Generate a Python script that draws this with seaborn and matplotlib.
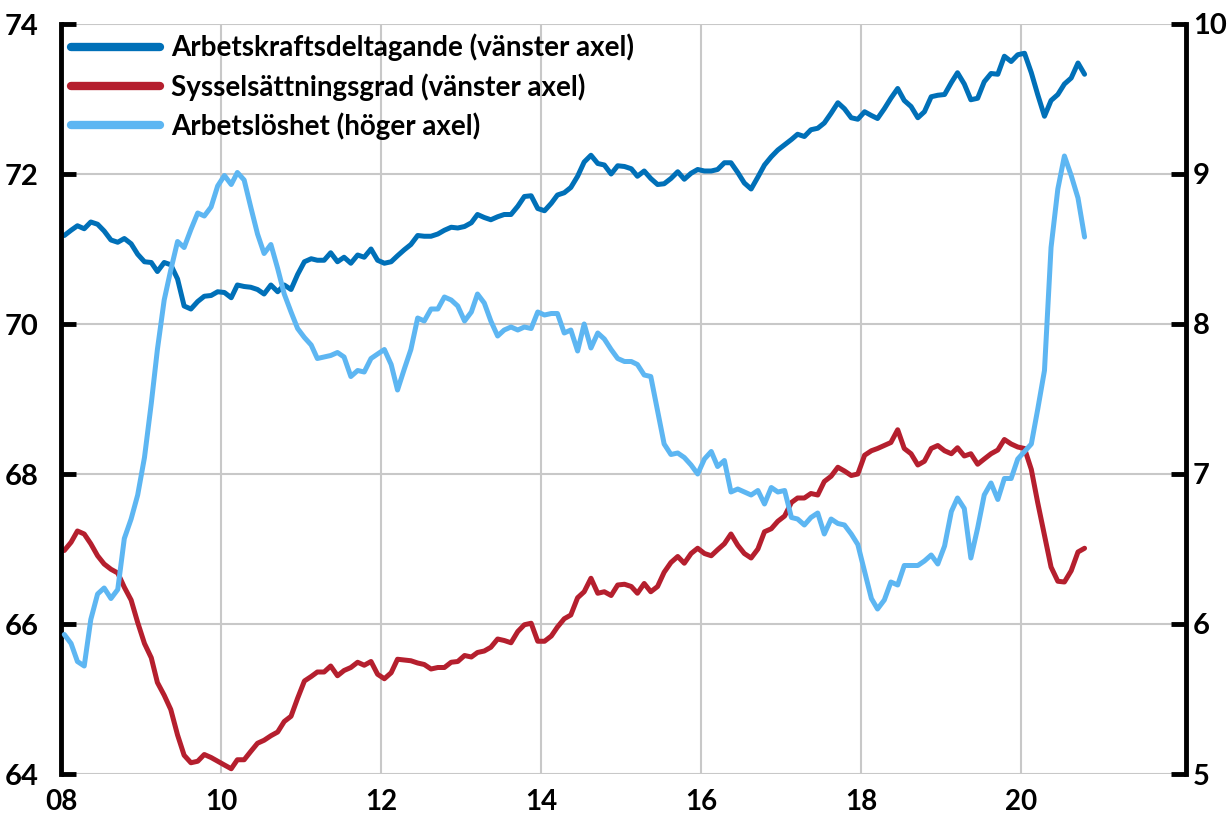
import pandas as pd
import matplotlib.pyplot as plt
import matplotlib.dates as mdates
import seaborn as sns

# Månadsdata jan 2008 - okt 2020
arbetskraft = [
    71.18, 71.25, 71.31, 71.27, 71.36, 71.33, 71.24, 71.12, 71.09, 71.14, 71.07, 70.93,
    70.83, 70.82, 70.70, 70.82, 70.79, 70.60, 70.24, 70.20, 70.30, 70.37, 70.38, 70.43,
    70.42, 70.35, 70.52, 70.50, 70.49, 70.46, 70.40, 70.52, 70.43, 70.52, 70.46, 70.66,
    70.83, 70.87, 70.85, 70.85, 70.95, 70.83, 70.89, 70.81, 70.92, 70.89, 71.00, 70.85,
    70.81, 70.83, 70.91, 70.99, 71.06, 71.18, 71.17, 71.17, 71.20, 71.25, 71.29, 71.28,
    71.30, 71.35, 71.46, 71.42, 71.39, 71.43, 71.46, 71.46, 71.57, 71.70, 71.71, 71.54,
    71.51, 71.61, 71.72, 71.75, 71.82, 71.97, 72.16, 72.25, 72.14, 72.12, 72.00, 72.11,
    72.10, 72.07, 71.97, 72.04, 71.94, 71.86, 71.87, 71.94, 72.03, 71.93, 72.01, 72.06,
    72.04, 72.04, 72.06, 72.15, 72.15, 72.02, 71.88, 71.80, 71.96, 72.12, 72.23, 72.32,
    72.39, 72.46, 72.53, 72.50, 72.59, 72.61, 72.68, 72.81, 72.95, 72.87, 72.75, 72.73,
    72.83, 72.78, 72.74, 72.87, 73.01, 73.14, 72.98, 72.90, 72.75, 72.83, 73.03, 73.05,
    73.06, 73.22, 73.35, 73.20, 72.99, 73.01, 73.23, 73.34, 73.33, 73.57, 73.50, 73.59,
    73.61, 73.35, 73.06, 72.77, 72.98, 73.06, 73.20, 73.28, 73.48, 73.33,
]
sysselsattning = [
    66.98, 67.09, 67.24, 67.20, 67.07, 66.91, 66.80, 66.73, 66.68, 66.49, 66.32, 66.02,
    65.74, 65.55, 65.22, 65.05, 64.86, 64.52, 64.25, 64.15, 64.17, 64.26, 64.22, 64.17,
    64.12, 64.07, 64.19, 64.19, 64.30, 64.41, 64.45, 64.51, 64.56, 64.70, 64.77, 65.01,
    65.24, 65.30, 65.36, 65.36, 65.44, 65.31, 65.38, 65.42, 65.49, 65.45, 65.50, 65.33,
    65.27, 65.35, 65.53, 65.52, 65.51, 65.48, 65.46, 65.40, 65.42, 65.42, 65.49, 65.50,
    65.58, 65.56, 65.62, 65.64, 65.69, 65.80, 65.78, 65.75, 65.90, 65.99, 66.01, 65.77,
    65.77, 65.84, 65.96, 66.07, 66.12, 66.35, 66.43, 66.61, 66.41, 66.43, 66.38, 66.52,
    66.53, 66.50, 66.41, 66.54, 66.43, 66.50, 66.69, 66.82, 66.90, 66.81, 66.94, 67.01,
    66.94, 66.91, 66.99, 67.07, 67.20, 67.05, 66.94, 66.88, 67.00, 67.23, 67.27, 67.37,
    67.44, 67.62, 67.68, 67.68, 67.74, 67.72, 67.90, 67.97, 68.09, 68.04, 67.98, 68.00,
    68.25, 68.31, 68.34, 68.38, 68.42, 68.59, 68.34, 68.27, 68.12, 68.17, 68.34, 68.38,
    68.31, 68.27, 68.35, 68.24, 68.27, 68.13, 68.20, 68.27, 68.32, 68.46, 68.40, 68.36,
    68.34, 68.06, 67.62, 67.18, 66.76, 66.57, 66.56, 66.71, 66.96, 67.01,
]
arbetsloshet = [
    5.93, 5.87, 5.75, 5.72, 6.03, 6.20, 6.24, 6.17, 6.23, 6.57, 6.70, 6.86,
    7.11, 7.47, 7.83, 8.16, 8.36, 8.55, 8.51, 8.63, 8.74, 8.72, 8.78, 8.92,
    8.99, 8.93, 9.01, 8.96, 8.78, 8.60, 8.47, 8.53, 8.37, 8.20, 8.08, 7.97,
    7.91, 7.86, 7.77, 7.78, 7.79, 7.81, 7.78, 7.65, 7.69, 7.68, 7.77, 7.80,
    7.83, 7.73, 7.56, 7.70, 7.83, 8.04, 8.02, 8.10, 8.10, 8.18, 8.16, 8.12,
    8.02, 8.08, 8.20, 8.14, 8.02, 7.92, 7.96, 7.98, 7.96, 7.98, 7.97, 8.08,
    8.06, 8.07, 8.07, 7.94, 7.96, 7.82, 8.00, 7.84, 7.94, 7.90, 7.83, 7.77,
    7.75, 7.75, 7.73, 7.66, 7.65, 7.42, 7.20, 7.13, 7.14, 7.11, 7.06, 7.00,
    7.10, 7.15, 7.05, 7.09, 6.88, 6.90, 6.88, 6.86, 6.89, 6.80, 6.91, 6.88,
    6.89, 6.71, 6.70, 6.66, 6.71, 6.74, 6.60, 6.70, 6.67, 6.66, 6.60, 6.53,
    6.35, 6.17, 6.10, 6.16, 6.28, 6.26, 6.39, 6.39, 6.39, 6.42, 6.46, 6.40,
    6.52, 6.75, 6.84, 6.77, 6.44, 6.64, 6.86, 6.94, 6.83, 6.97, 6.97, 7.10,
    7.15, 7.20, 7.43, 7.69, 8.51, 8.90, 9.12, 8.99, 8.84, 8.58,
]

etiketter = ["Arbetskraftsdeltagande (vänster axel)",
             "Sysselsättningsgrad (vänster axel)",
             "Arbetslöshet (höger axel)"]
farger = ["#0070B8", "#B51F2E", "#5DB6F2"]

datum = pd.date_range("2008-01-01", periods=len(arbetskraft), freq="MS") + pd.Timedelta(days=15)
df = pd.DataFrame({"datum": datum, "ak": arbetskraft, "ss": sysselsattning, "al": arbetsloshet})

sns.set_style("white")
plt.rcParams["font.family"] = ["Lato", "DejaVu Sans"]
plt.rcParams["font.weight"] = "bold"
plt.rcParams["text.color"] = "black"
plt.rcParams["xtick.color"] = "black"
plt.rcParams["ytick.color"] = "black"

fig = plt.figure(figsize=(12.29, 8.22), dpi=100)
ax = fig.add_axes([61 / 1229, 1 - 774 / 822, (1186 - 61) / 1229, 750 / 822])
ax2 = ax.twinx()

lw = 3.6
sns.lineplot(data=df, x="datum", y="ak", ax=ax, color=farger[0], linewidth=lw, label=etiketter[0], legend=False)
sns.lineplot(data=df, x="datum", y="ss", ax=ax, color=farger[1], linewidth=lw, label=etiketter[1], legend=False)
sns.lineplot(data=df, x="datum", y="al", ax=ax2, color=farger[2], linewidth=lw, label=etiketter[2], legend=False)

# Axlar
ax.set_ylim(64, 74)
ax2.set_ylim(5, 10)
ax.set_yticks(range(64, 75, 2))
ax2.set_yticks(range(5, 11))
ax.set_xlim(pd.Timestamp("2008-01-01"), pd.Timestamp("2022-01-22"))
ax.set_xticks([pd.Timestamp(f"{a}-01-01") for a in range(2008, 2021, 2)])
ax.xaxis.set_major_formatter(mdates.DateFormatter("%y"))
ax.set_xlabel("")
ax.set_ylabel("")
ax2.set_ylabel("")

ax.grid(True, color="#C8C8C8", linewidth=1.5)
ax.set_axisbelow(True)
ax.set_zorder(0)
ax2.set_zorder(1)
ax2.patch.set_visible(False)

for a in (ax, ax2):
    a.spines["top"].set_visible(False)
    a.spines["bottom"].set_visible(False)
ax.spines["right"].set_visible(False)
ax.spines["left"].set_linewidth(3.5)
ax.spines["left"].set_color("black")
ax2.spines["left"].set_visible(False)
ax2.spines["right"].set_linewidth(3.5)
ax2.spines["right"].set_color("black")

ax.tick_params(axis="y", direction="in", length=11, width=3.5, labelsize=21, pad=16, labelcolor="black")
ax2.tick_params(axis="y", direction="in", length=11, width=3.5, labelsize=21, pad=5, labelcolor="black")
ax.tick_params(axis="x", direction="out", length=5, width=1.5, color="#C8C8C8", labelsize=20, pad=6, labelcolor="black")
for lab in ax.get_xticklabels() + ax.get_yticklabels() + ax2.get_yticklabels():
    lab.set_fontweight("bold")

# Förklaring
linjer = ax.get_lines()[:2] + ax2.get_lines()[:1]
leg = ax2.legend(linjer, etiketter, loc="upper left", bbox_to_anchor=(0.0, 1.0),
                 frameon=False, handlelength=3.2, handletextpad=0.4,
                 labelspacing=0.42, borderaxespad=0.1, borderpad=0.25,
                 prop={"size": 20, "weight": "bold"})
for l in leg.get_lines():
    l.set_linewidth(6)
for t in leg.get_texts():
    t.set_color("black")

fig.savefig("out.png", dpi=100)
